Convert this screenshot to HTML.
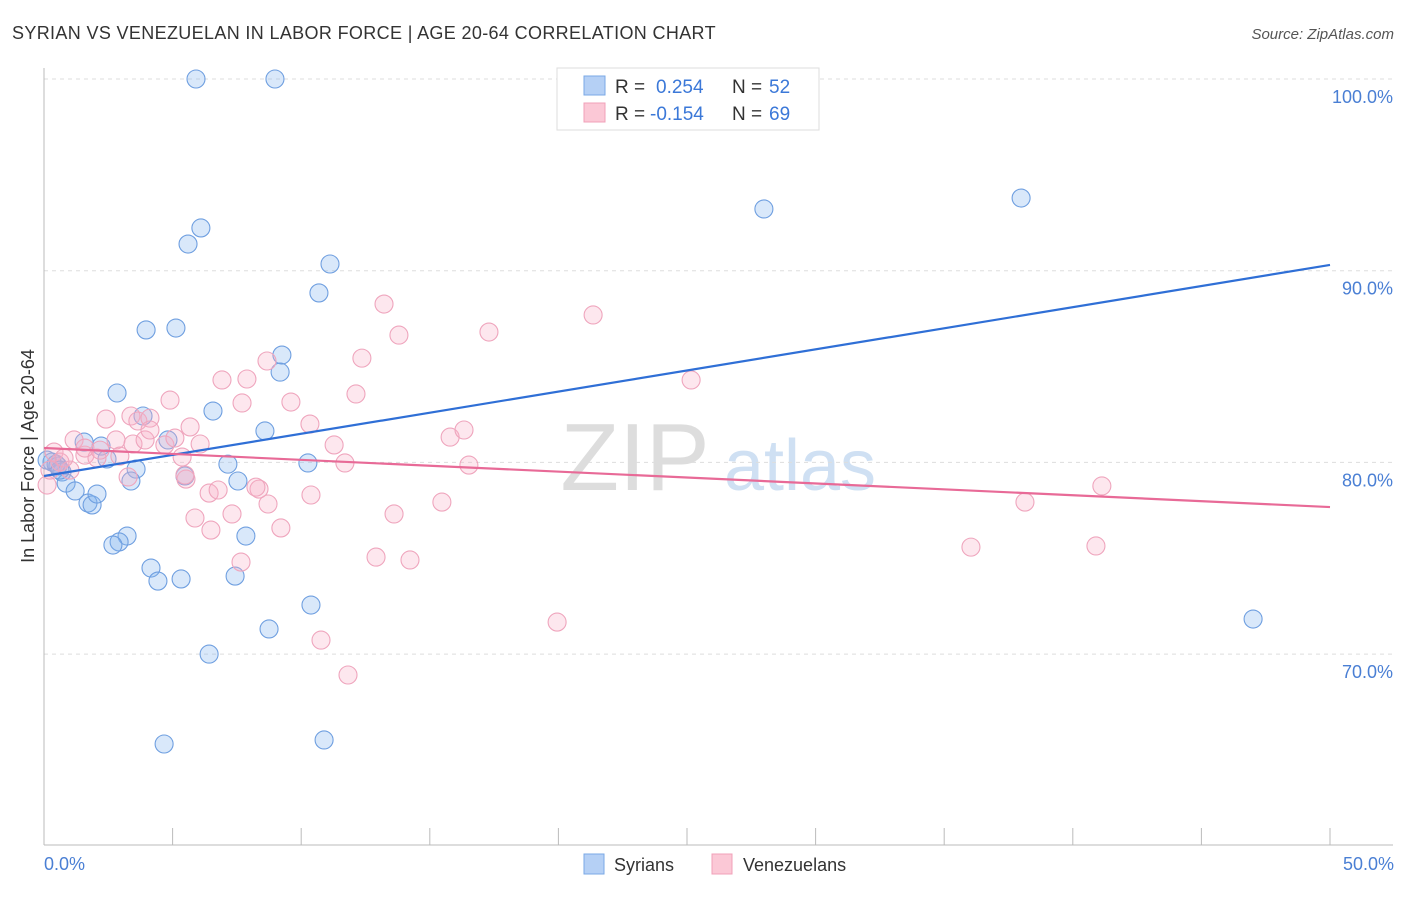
<!DOCTYPE html>
<html><head><meta charset="utf-8"><style>
body{margin:0;background:#fff;font-family:"Liberation Sans",sans-serif}
svg text{font-family:"Liberation Sans",sans-serif}
</style></head><body>
<svg id="chart" width="1406" height="892">
<text x="12" y="39" font-size="18" fill="#333" letter-spacing="0.35">SYRIAN VS VENEZUELAN IN LABOR FORCE | AGE 20-64 CORRELATION CHART</text>
<text x="1394" y="39" font-size="15" fill="#555" text-anchor="end" font-style="italic">Source: ZipAtlas.com</text>
<g><text x="635" y="490" font-size="96" fill="#ddd" font-family="Liberation Serif" text-anchor="middle">ZIP</text><text x="800" y="490" font-size="72" fill="#cfe0f3" text-anchor="middle">atlas</text></g>
<g id="grid"></g><g id="axes"></g><g id="marks"></g>
<text transform="translate(34,456) rotate(-90)" font-size="18" fill="#333" text-anchor="middle">In Labor Force | Age 20-64</text>
<text x="44" y="870" font-size="18" fill="#4a7fd4">0.0%</text>
<text x="1394" y="870" font-size="18" fill="#4a7fd4" text-anchor="end">50.0%</text>
<g>
<rect x="557" y="68" width="262" height="62" fill="#fff" stroke="#ddd"/>
<rect x="584" y="76" width="21" height="19" fill="#b5d0f5" stroke="#7aa8e6"/>
<rect x="584" y="103" width="21" height="19" fill="#fbc8d6" stroke="#f0a0b8"/>
<text x="615" y="93" font-size="19" fill="#333">R = </text><text x="656" y="93" font-size="19" fill="#3b78d8">0.254</text>
<text x="732" y="93" font-size="19" fill="#333">N = </text><text x="769" y="93" font-size="19" fill="#3b78d8">52</text>
<text x="615" y="120" font-size="19" fill="#333">R = </text><text x="650" y="120" font-size="19" fill="#3b78d8">-0.154</text>
<text x="732" y="120" font-size="19" fill="#333">N = </text><text x="769" y="120" font-size="19" fill="#3b78d8">69</text>
</g>
<g>
<rect x="584" y="854" width="20" height="20" fill="#b5d0f5" stroke="#7aa8e6"/>
<text x="614" y="871" font-size="18" fill="#333">Syrians</text>
<rect x="712" y="854" width="20" height="20" fill="#fbc8d6" stroke="#f0a0b8"/>
<text x="743" y="871" font-size="18" fill="#333">Venezuelans</text>
</g>
</svg>
<script>
const yTicks=[100,90,80,70];
const yTickLabels=["100.0%","90.0%","80.0%","70.0%"];
const xTicks=[5,10,15,20,25,30,35,40,45,50];
const syrX=[5.91,8.98,27.84,6.10,5.60,27.99,37.99,11.12,10.69,3.97,5.13,9.25,9.18,2.84,6.57,3.85,8.59,4.82,1.56,2.22,2.45,3.58,7.15,10.26,5.48,7.54,3.38,0.31,0.54,0.70,0.86,1.21,1.71,1.87,2.06,7.85,3.23,2.92,2.68,4.16,4.43,5.33,7.43,10.38,8.75,6.42,4.67,10.89,47.01,0.47,0.12,0.62];
const syrY=[100,100,99.9,92.23,91.39,93.22,93.79,90.35,88.84,86.91,87.01,85.60,84.71,83.62,82.68,82.42,81.64,81.17,81.06,80.85,80.18,79.65,79.91,79.97,79.29,79.03,79.03,80.02,79.81,79.50,78.92,78.51,77.88,77.78,78.35,76.16,76.16,75.85,75.69,74.49,73.81,73.92,74.07,72.56,71.31,70.00,65.31,65.52,71.83,79.91,80.12,79.60];
const venX=[0.39,0.12,1.17,1.59,2.06,2.41,2.80,3.38,3.65,4.12,3.46,3.93,4.70,5.09,4.12,5.68,6.07,5.37,5.52,4.90,6.92,7.89,8.67,7.70,9.60,10.34,11.28,11.70,12.36,12.13,13.22,13.80,17.30,21.35,25.16,15.79,16.33,16.52,15.47,13.61,12.91,14.23,19.95,10.77,11.82,5.87,6.49,7.31,7.66,9.21,8.71,8.36,6.42,6.77,8.24,10.38,36.04,38.14,40.90,41.13,3.27,5.48,0.62,1.01,2.95,2.18,1.59,0.78,0.23];
const venY=[80.54,78.82,81.17,80.38,80.23,82.26,81.17,82.42,82.16,82.31,80.96,81.17,80.91,81.27,81.69,81.85,80.96,80.28,79.13,83.25,84.30,84.35,85.29,83.10,83.15,82.00,80.91,79.97,85.44,83.57,88.26,86.64,86.80,87.69,84.30,81.32,81.69,79.86,77.93,77.31,75.06,74.91,71.67,70.73,68.91,77.10,76.47,77.31,74.80,76.58,77.83,78.61,78.40,78.56,78.71,78.30,75.58,77.93,75.64,78.77,79.24,79.34,80.02,79.60,80.33,80.64,80.75,80.23,79.60];
const syrTrend=[79.29,90.30];
const venTrend=[80.75,77.67];
const NS="http://www.w3.org/2000/svg";
const xs=v=>44+v/50*1286;
const ys=v=>79+(100-v)*19.17;
function mk(tag,attrs,parent){const e=document.createElementNS(NS,tag);for(const k in attrs)e.setAttribute(k,attrs[k]);parent.appendChild(e);return e;}
const grid=document.getElementById('grid'),axes=document.getElementById('axes'),marks=document.getElementById('marks');
yTicks.forEach((t,i)=>{
 const l=mk('line',{x1:44,x2:1393,y1:ys(t),y2:ys(t),stroke:'#ddd','stroke-dasharray':'4,4'},grid);
 
 
 const tx=mk('text',{x:1393,y:ys(t)+24,'font-size':18,fill:'#4a7fd4','text-anchor':'end'},grid);
 tx.textContent=yTickLabels[i];
 
 
});
const ya=mk('line',{x1:44,x2:44,y1:68,y2:845,stroke:'#bbb'},axes);


const xa=mk('line',{x1:44,x2:1393,y1:845,y2:845,stroke:'#bbb'},axes);


xTicks.forEach(t=>{
 const l=mk('line',{x1:xs(t),x2:xs(t),y1:828,y2:845,stroke:'#bbb'},axes);
 
 
});
syrX.forEach((x,i)=>{
 const c=mk('circle',{cx:xs(x),cy:ys(syrY[i]),r:9,fill:'rgba(130,180,240,0.3)',stroke:'#6f9fe0','stroke-width':1.1},marks);
 
 
});
venX.forEach((x,i)=>{
 const c=mk('circle',{cx:xs(x),cy:ys(venY[i]),r:9,fill:'rgba(248,175,200,0.3)',stroke:'#efa5bd','stroke-width':1.1},marks);
 
 
});
const t1=mk('line',{x1:xs(0),x2:xs(50),y1:ys(syrTrend[0]),y2:ys(syrTrend[1]),stroke:'#2f6fd6','stroke-width':2.2},marks);


const t2=mk('line',{x1:xs(0),x2:xs(50),y1:ys(venTrend[0]),y2:ys(venTrend[1]),stroke:'#e86a97','stroke-width':2.2},marks);


</script>
</body></html>
